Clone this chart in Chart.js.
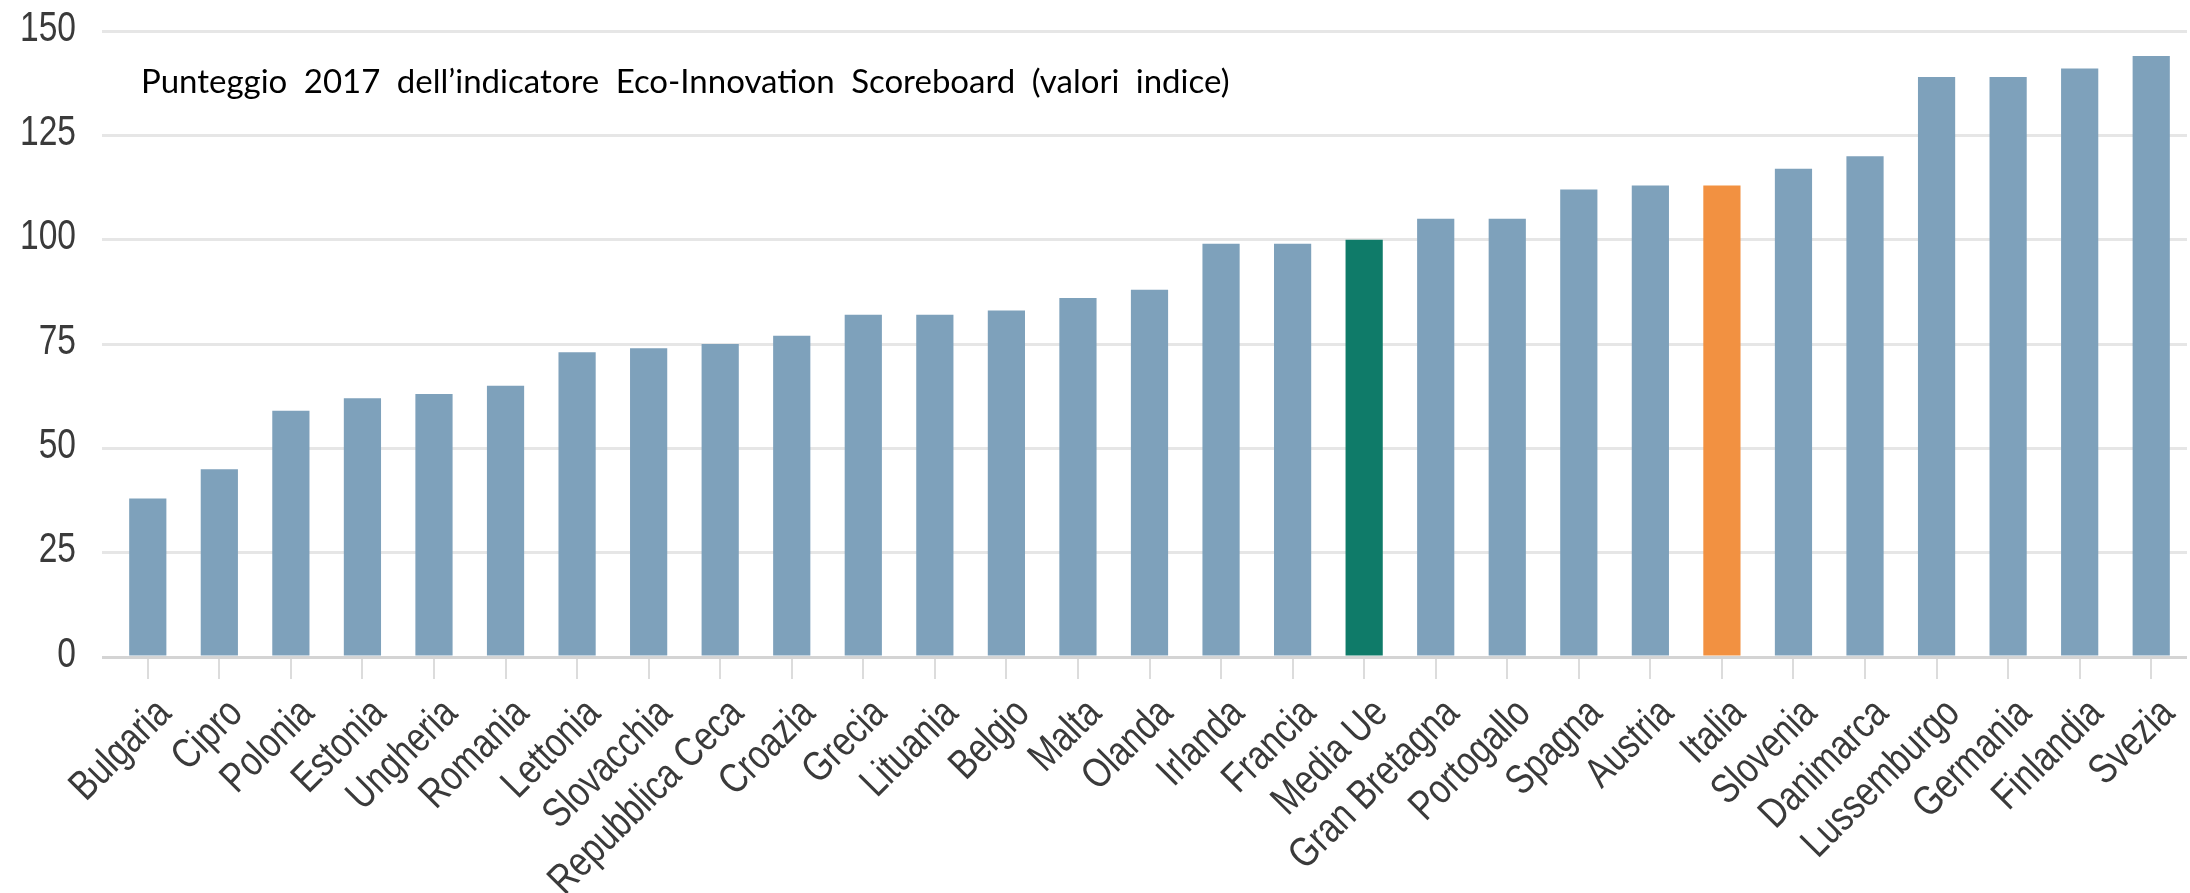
<!DOCTYPE html>
<html>
<head>
<meta charset="utf-8">
<title>Eco-Innovation Scoreboard 2017</title>
<script src="https://cdn.jsdelivr.net/npm/chart.js@4.4.0/dist/chart.umd.min.js"></script>
<style>
    body { margin: 0; background: #fff; }
    #wrap { width: 2190px; height: 893px; position: relative; }
</style>
</head>
<body>
<div id="wrap"><canvas id="barChart"></canvas></div>
<script>
var paesi = ['Bulgaria', 'Cipro', 'Polonia', 'Estonia', 'Ungheria', 'Romania', 'Lettonia', 'Slovacchia',
    'Repubblica Ceca', 'Croazia', 'Grecia', 'Lituania', 'Belgio', 'Malta', 'Olanda', 'Irlanda', 'Francia',
    'Media Ue', 'Gran Bretagna', 'Portogallo', 'Spagna', 'Austria', 'Italia', 'Slovenia', 'Danimarca',
    'Lussemburgo', 'Germania', 'Finlandia', 'Svezia'];
var punteggi = [38, 45, 59, 62, 63, 65, 73, 74,
    75, 77, 82, 82, 83, 86, 88, 99, 99,
    100, 105, 105, 112, 113, 113, 117, 120,
    139, 139, 141, 144];
var yTicks = [0, 25, 50, 75, 100, 125, 150];
var titolo = 'Punteggio 2017 dell\u2019indicatore Eco-Innovation Scoreboard (valori indice)';
var mediaUe = 'Media Ue';
var italia = 'Italia';

const BLU = '#7ea1bb';
const VERDE = '#0f7b69';
const ARANCIO = '#f29141';
const FONT_ASSI = '42px "Liberation Sans", Arial, sans-serif';
const STRETTO = 0.8;   // il carattere originale e' un condensed

const coloriBarre = function (labels) {
    return labels.map(function (l) {
        if (l == mediaUe) return VERDE;
        if (l == italia) return ARANCIO;
        return BLU;
    })
}

// titolo scritto dentro l'area del grafico, come nell'originale
const titoloPlugin = {
    id: 'titoloInterno',
    afterDraw: function (chart) {
        var ctx = chart.ctx;
        var area = chart.chartArea;
        ctx.save();
        ctx.font = '33px Lato';
        ctx.wordSpacing = '8px';
        ctx.fillStyle = '#000';
        ctx.textBaseline = 'alphabetic';
        ctx.fillText(titolo, area.left + 29, area.top + 62);
        ctx.restore();
    }
}

// etichette degli assi disegnate strette (condensed) sulle posizioni delle scale
const etichettePlugin = {
    id: 'etichetteStrette',
    afterDraw: function (chart) {
        var ctx = chart.ctx;
        var sx = chart.scales.x;
        var sy = chart.scales.y;
        ctx.save();
        ctx.font = FONT_ASSI;
        ctx.fillStyle = '#3a3a3a';
        ctx.textAlign = 'right';
        ctx.textBaseline = 'middle';

        sy.ticks.forEach(function (t) {
            ctx.save();
            ctx.translate(chart.chartArea.left - 36, sy.getPixelForValue(t.value) - 2);
            ctx.scale(STRETTO, 1);
            ctx.fillText(String(t.value), 0, 0);
            ctx.restore();
        });

        sx.ticks.forEach(function (t, i) {
            ctx.save();
            ctx.translate(sx.getPixelForTick(i) + 17, sx.top + 50);
            ctx.rotate(-Math.PI / 4);
            ctx.scale(STRETTO, 1);
            ctx.fillText(chart.data.labels[i], 0, 0);
            ctx.restore();
        });
        ctx.restore();
    }
}

var barChartCanvas = document.getElementById('barChart').getContext('2d');

new Chart(barChartCanvas, {
    type: 'bar',
    data: {
        labels: paesi,
        datasets: [
            {
                label: titolo,
                data: punteggi,
                backgroundColor: coloriBarre(paesi),
                borderWidth: 0,
                categoryPercentage: 1,
                barPercentage: 0.52
            }
        ]
    },
    options: {
        responsive: true,
        maintainAspectRatio: false,
        animation: false,
        layout: { padding: { top: 31, right: 3, left: 0, bottom: 0 } },
        plugins: {
            legend: { display: false },
            tooltip: { enabled: false }
        },
        scales: {
            x: {
                offset: true,
                border: { display: false },
                grid: {
                    offset: false,
                    drawOnChartArea: false,
                    drawTicks: true,
                    tickLength: 22,
                    color: '#dcdcdc',
                    lineWidth: 2
                },
                ticks: { display: false, autoSkip: false },
                afterFit: function (scale) { scale.height = 236; }
            },
            y: {
                min: 0,
                max: 150,
                border: { display: false },
                grid: {
                    color: function (c) { return c.tick && c.tick.value == 0 ? '#d4d4d4' : '#e6e6e6'; },
                    lineWidth: 3,
                    drawTicks: true,
                    tickLength: 10
                },
                ticks: { display: false },
                afterBuildTicks: function (scale) {
                    scale.ticks = yTicks.map(function (v) { return { value: v }; });
                },
                afterFit: function (scale) { scale.width = 112; }
            }
        }
    },
    plugins: [titoloPlugin, etichettePlugin]
})
</script>
</body>
</html>
